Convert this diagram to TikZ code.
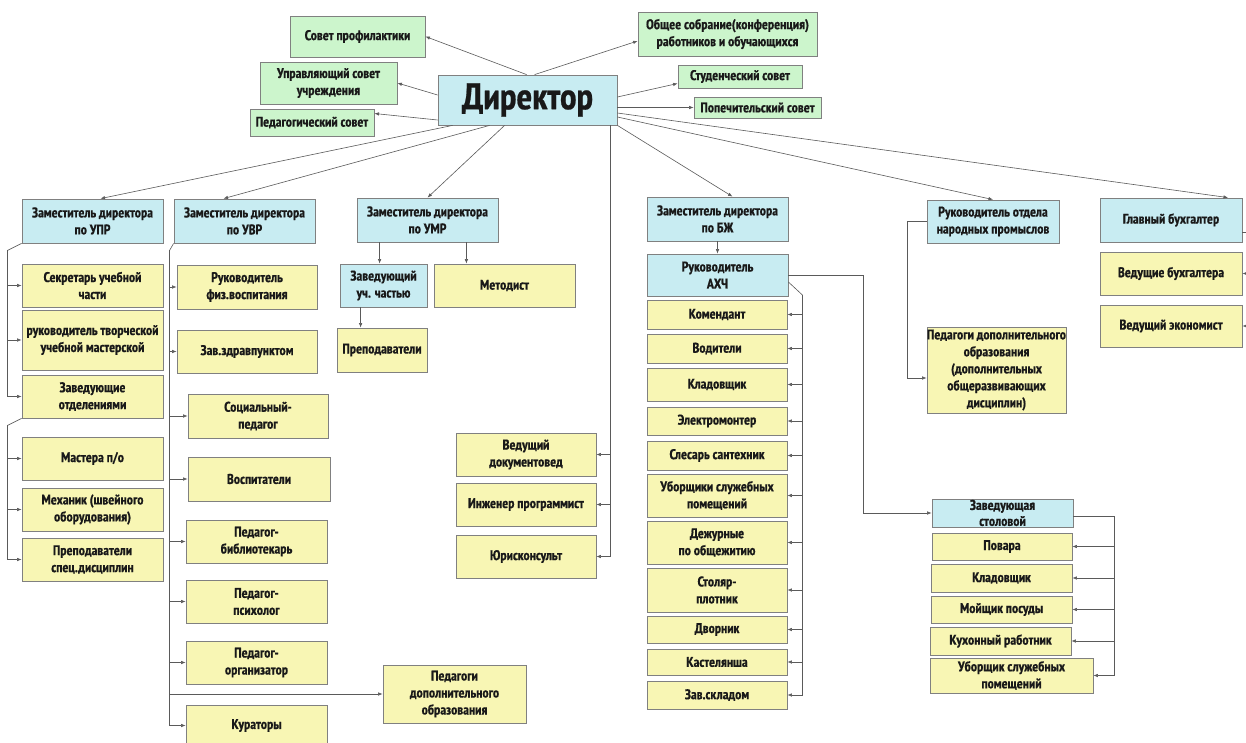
\documentclass[tikz,border=0pt]{standalone}
\usepackage{fontspec}
\setmainfont{PT Sans Narrow}[BoldFont={PT Sans Narrow Bold}, BoldFeatures={FakeBold=0.6}]
\usetikzlibrary{calc,arrows.meta}
\definecolor{gr}{HTML}{CCF5CC}
\definecolor{bl}{HTML}{C8ECF2}
\definecolor{yl}{HTML}{F8F6B4}
\definecolor{bd}{HTML}{808080}
\definecolor{ln}{HTML}{5A5A5A}
\tikzset{
 base/.style={draw=bd, line width=0.8pt, inner sep=0pt, align=center, text=black!90, font=\bfseries\fontsize{14}{17}\selectfont},
 gbox/.style={base, fill=gr},
 bbox/.style={base, fill=bl},
 ybox/.style={base, fill=yl},
 conn/.style={draw=ln, line width=0.6pt},
 arr/.style={conn, -{Latex[length=4.5pt,width=3.5pt]}},
}
\newcommand{\bx}[7]{%
 \pgfmathsetmacro\bxcx{(#3+#5)/2}\pgfmathsetmacro\bxcy{(#4+#6)/2}%
 \pgfmathsetmacro\bxw{#5-#3}\pgfmathsetmacro\bxh{#6-#4}%
 \node[#2, minimum width=\bxw pt, minimum height=\bxh pt] (#1) at (\bxcx,\bxcy) {#7};}
\begin{document}
\begin{tikzpicture}[x=1pt,y=-1pt]
\fill[white] (0,0) rectangle (1246,743);
\useasboundingbox (0,0) rectangle (1246,743);
% top councils
\bx{sov}{gbox}{290}{16}{425}{57}{Совет профилактики}
\bx{usov}{gbox}{260}{62}{397}{104}{Управляющий совет\\учреждения}
\bx{peds}{gbox}{250}{109}{374}{136}{Педагогический совет}
\bx{obs}{gbox}{638}{12}{817}{56}{Общее собрание(конференция)\\работников и обучающихся}
\bx{stud}{gbox}{678}{65}{802}{88}{Студенческий совет}
\bx{pop}{gbox}{694}{97}{821}{118}{Попечительский совет}
\bx{dir}{bbox, font=\bfseries\fontsize{37}{40}\selectfont}{438}{75}{617}{125}{Директор}
% level 2
\bx{upr}{bbox}{22}{199}{163}{243}{Заместитель директора\\по УПР}
\bx{uvr}{bbox}{174}{199}{315}{243}{Заместитель директора\\по УВР}
\bx{umr}{bbox}{357}{198}{498}{242}{Заместитель директора\\по УМР}
\bx{bz}{bbox}{647}{197}{788}{241}{Заместитель директора\\по БЖ}
\bx{rotd}{bbox}{927}{200}{1059}{243}{Руководитель отдела\\народных промыслов}
\bx{gb}{bbox}{1100}{198}{1242}{242}{Главный бухгалтер}
% UPR
\bx{sek}{ybox}{22}{264}{163}{307}{Секретарь учебной\\части}
\bx{rtm}{ybox}{22}{310}{163}{370}{руководитель творческой\\учебной мастерской}
\bx{zot}{ybox}{22}{375}{163}{418}{Заведующие\\отделениями}
\bx{mas}{ybox}{22}{437}{163}{480}{Мастера п/о}
\bx{meh}{ybox}{22}{488}{163}{531}{Механик (швейного\\оборудования)}
\bx{psd}{ybox}{22}{538}{163}{581}{Преподаватели\\спец.дисциплин}
% UVR
\bx{fiz}{ybox}{177}{265}{317}{309}{Руководитель\\физ.воспитания}
\bx{zdr}{ybox}{177}{330}{317}{373}{Зав.здравпунктом}
\bx{soc}{ybox}{188}{394}{328}{438}{Социальный-\\педагог}
\bx{vos}{ybox}{188}{457}{330}{501}{Воспитатели}
\bx{bib}{ybox}{186}{520}{327}{563}{Педагог-\\библиотекарь}
\bx{psi}{ybox}{186}{580}{327}{623}{Педагог-\\психолог}
\bx{org}{ybox}{186}{641}{327}{684}{Педагог-\\организатор}
\bx{kur}{ybox}{186}{705}{327}{746}{Кураторы}
\bx{pdo1}{ybox}{383}{665}{526}{723}{Педагоги\\дополнительного\\образования}
% UMR
\bx{zuch}{bbox}{340}{264}{427}{307}{Заведующий\\уч. частью}
\bx{met}{ybox}{434}{264}{575}{307}{Методист}
\bx{prep}{ybox}{337}{328}{427}{372}{Преподаватели}
\bx{doc}{ybox}{456}{433}{596}{476}{Ведущий\\документовед}
\bx{ing}{ybox}{456}{483}{596}{526}{Инженер программист}
\bx{jur}{ybox}{456}{535}{596}{578}{Юрисконсульт}
% BZh
\bx{ahch}{bbox}{647}{254}{788}{296}{Руководитель\\АХЧ}
\bx{kom}{ybox}{647}{300}{787}{329}{Комендант}
\bx{vod}{ybox}{647}{334}{787}{363}{Водители}
\bx{kla}{ybox}{647}{368}{787}{401}{Кладовщик}
\bx{ele}{ybox}{647}{407}{787}{435}{Электромонтер}
\bx{sle}{ybox}{647}{441}{787}{470}{Слесарь сантехник}
\bx{ubo}{ybox}{647}{474}{787}{517}{Уборщики служебных\\помещений}
\bx{dez}{ybox}{647}{521}{787}{564}{Дежурные\\по общежитию}
\bx{sto}{ybox}{647}{568}{787}{612}{Столяр-\\плотник}
\bx{dvo}{ybox}{647}{616}{787}{643}{Дворник}
\bx{kas}{ybox}{647}{649}{787}{675}{Кастелянша}
\bx{zsk}{ybox}{647}{681}{787}{709}{Зав.складом}
% right
\bx{pdo2}{ybox}{927}{327}{1066}{413}{Педагоги дополнительного\\образования\\(дополнительных\\общеразвивающих\\дисциплин)}
\bx{vb}{ybox}{1100}{252}{1242}{295}{Ведущие бухгалтера}
\bx{ve}{ybox}{1100}{305}{1242}{347}{Ведущий экономист}
\bx{stol}{bbox, font=\bfseries\fontsize{14}{16}\selectfont}{932}{499}{1073}{527}{Заведующая\\столовой}
\bx{pov}{ybox}{932}{533}{1072}{560}{Повара}
\bx{kl2}{ybox}{931}{564}{1072}{592}{Кладовщик}
\bx{moy}{ybox}{931}{596}{1072}{623}{Мойщик посуды}
\bx{kuh}{ybox}{930}{627}{1071}{655}{Кухонный работник}
\bx{ubs}{ybox}{930}{658}{1093}{693}{Уборщик служебных\\помещений}
% director connectors
\draw[arr] ($(dir.north west)+(89,0)$) -- (sov.east);
\draw[arr] ($(dir.north west)+(97,0)$) -- ($(obs.west)+(0,7)$);
\draw[arr] ($(dir.east)+(0,-3)$) -- ($(stud.west)+(0,7)$);
\draw[arr] (dir.east |- pop.west) -- (pop.west);
\draw[arr] ($(dir.west)+(0,-5)$) -- (usov.east);
\draw[arr] ($(dir.west)+(0,20)$) -- ($(peds.east)+(0,-9)$);
\draw[arr] ($(dir.south west)+(15,0)$) -- ($(upr.north)+(8,0)$);
\draw[arr] ($(dir.south west)+(52,0)$) -- ($(uvr.north)+(-21,0)$);
\draw[arr] ($(dir.south west)+(67,0)$) -- (umr.north);
\draw[arr] (dir.south east) -- ($(bz.north)+(15,0)$);
\draw[arr] ($(dir.east)+(0,17)$) -- (rotd.north);
\draw[arr] ($(dir.east)+(0,13)$) -- ($(gb.north)+(57,0)$);
\coordinate (dv) at ($(dir.south east)+(-7,0)$);
\foreach \n in {doc,ing,jur} \draw[arr] (dv) |- (\n.east);
% UPR tree
\draw[conn] (upr.south west) -- ++(-14,7) coordinate (t1);
\foreach \n in {sek,rtm,zot} \draw[arr] (t1) |- (\n.west);
\draw[conn] (zot.south west) -- ++(-14,7) coordinate (t2);
\foreach \n in {mas,meh,psd} \draw[arr] (t2) |- (\n.west);
% UVR tree
\draw[conn] (uvr.south west) -- ++(-4,7) coordinate (t3);
\foreach \n in {fiz,zdr,soc,vos,bib,psi,org,pdo1,kur} \draw[arr] (t3) |- (\n.west);
% UMR
\draw[arr] ($(umr.south west)+(23,0)$) coordinate (u1) -- (u1 |- zuch.north);
\draw[arr] ($(umr.south east)+(-32,0)$) coordinate (u2) -- (u2 |- met.north);
\draw[arr] ($(zuch.south west)+(21,0)$) coordinate (u3) -- (u3 |- prep.north);
% BZh
\draw[arr] (bz.south) -- (ahch.north);
\draw[conn] ($(ahch.east)+(0,7)$) -- ++(14,13) coordinate (t4);
\foreach \n in {kom,vod,kla,ele,sle,ubo,dez,sto,dvo,kas,zsk} \draw[arr] (t4) |- (\n.east);
\draw[arr] (ahch.east) -| ($(stol.west)+(-68,0)$) -- (stol.west);
\draw[conn] ($(stol.east)+(0,3)$) -- ++(41,0) coordinate (t5);
\foreach \n in {pov,kl2,moy,kuh,ubs} \draw[arr] (t5) |- (\n.east);
% folk crafts
\draw[conn] (rotd.west) -- ++(-19,0) coordinate (t6);
\draw[arr] (t6) |- ($(pdo2.west)+(0,8)$);
% accountant
\draw[conn] ($(gb.east)+(0,12)$) -- ++(3.5,0) coordinate (t7);
\foreach \n in {vb,ve} \draw[arr] (t7) |- (\n.east);
\end{tikzpicture}
\end{document}
